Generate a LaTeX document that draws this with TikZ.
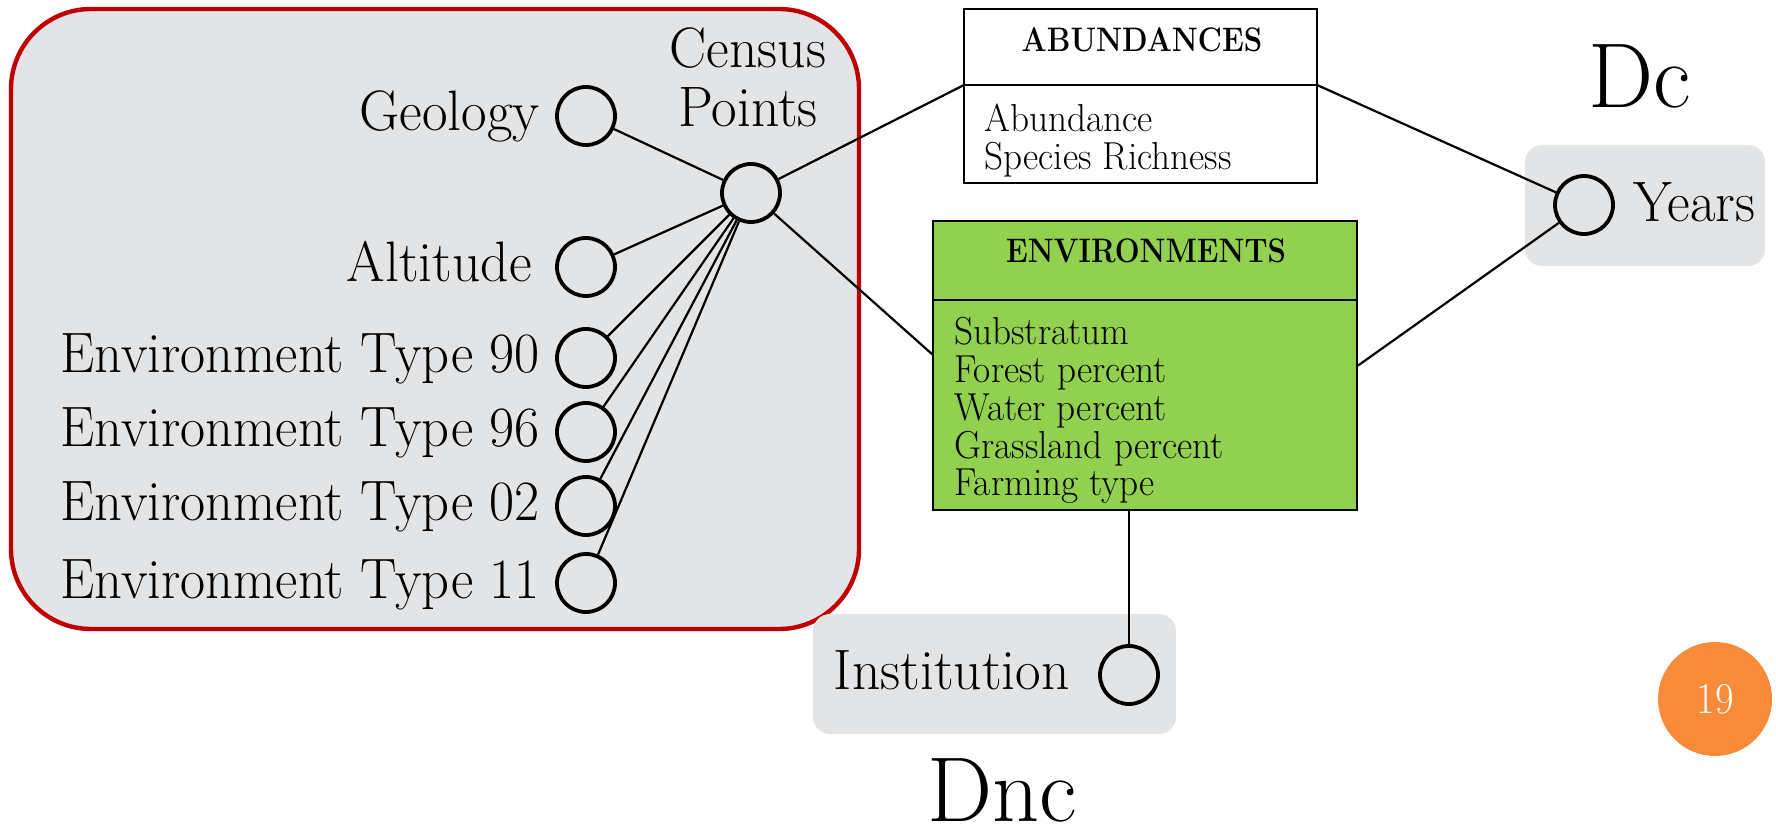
\documentclass[tikz,border=0pt]{standalone}
\usepackage{fontspec}
\definecolor{grayfill}{RGB}{227,228,230}
\definecolor{redline}{RGB}{192,0,0}
\definecolor{envgreen}{RGB}{146,208,80}
\definecolor{pageorange}{RGB}{247,139,58}
% narrow a piece of text horizontally
\newcommand\nx[2]{\scalebox{#1}[1]{#2}}
\begin{document}
\begin{tikzpicture}[x=0.5pt,y=-0.5pt,
  grp/.style={fill=grayfill, draw=none, rounded corners=8.5pt, inner sep=0pt},
  attr/.style={circle, draw, line width=1.9pt, minimum size=29pt, inner sep=0pt},
  lbl/.style={inner sep=0pt, font=\fontsize{28.5}{31}\selectfont},
  item/.style={inner sep=0pt, align=left, anchor=north west, font=\fontsize{19.5}{18.9}\selectfont},
  ttl/.style={inner sep=0pt, font=\fontsize{17}{20}\selectfont\bfseries},
  tbl/.style={draw, line width=1.1pt, inner sep=0pt},
  link/.style={line width=1.1pt},
  big/.style={inner sep=0pt, font=\fontsize{46}{50}\selectfont}]
\useasboundingbox (0,0) rectangle (1776,833);

% grouping backgrounds
\node[draw=redline, line width=2.2pt, fill=grayfill, rounded corners=40pt,
      minimum width=424pt, minimum height=310pt, inner sep=0pt] (cgroup) at (435,319) {};
\node[grp, minimum width=120pt, minimum height=60.5pt] (ygroup) at (1645,205.5) {};
\node[grp, minimum width=181.5pt, minimum height=60pt] (igroup) at (994.5,674) {};

% census point and its attributes
\node[attr] (cp) at (751,193) {};
\node[lbl, anchor=base] (cen1) at (748,68) {\nx{0.975}{Census}};
\node[lbl, anchor=base] (cen2) at (748,127) {\nx{0.975}{Points}};

\node[attr] (geo) at (586,116) {};
\node[attr] (alt) at (586,267) {};
\node[attr] (e90) at (586,358) {};
\node[attr] (e96) at (586,432) {};
\node[attr] (e02) at (586,506) {};
\node[attr] (e11) at (586,583) {};
\foreach \n/\t/\g/\s in {geo/Geology/7.5/0.975, alt/Altitude/11.5/0.975,
                   e90/Environment Type 90/7.5/0.957, e96/Environment Type 96/7.5/0.957,
                   e02/Environment Type 02/7.5/0.957, e11/Environment Type 11/7.5/0.957}
  \node[lbl, anchor=base east] (\n-l) at ([xshift=-\g pt,yshift=-7.5pt]\n.west) {\nx{\s}{\t}};

% fact tables
\node[tbl, fill=white, minimum width=176.5pt, minimum height=87pt] (abund) at (1140.5,96) {};
\coordinate (abl) at (964,85);
\coordinate (abr) at (1317,85);
\draw[line width=1.1pt] (abl) -- (abr);
\node[ttl] (abund-t) at (1142,40) {\nx{0.87}{ABUNDANCES}};
\node[item] (abund-i) at (984,103.5) {\nx{0.955}{Abundance}\\\nx{0.955}{Species Richness}};

\node[tbl, fill=envgreen, minimum width=212pt, minimum height=144.5pt] (env) at (1145,365.5) {};
\coordinate (envtl) at (933,300);
\coordinate (envtr) at (1357,300);
\draw[line width=1.1pt] (envtl) -- (envtr);
\coordinate (envl) at (933,355);
\node[ttl] (env-t) at (1146,251) {\nx{0.865}{ENVIRONMENTS}};
\node[item] (env-i) at (954,317) {\nx{0.955}{Substratum}\\\nx{0.955}{Forest percent}\\
  \nx{0.955}{Water percent}\\\nx{0.955}{Grassland percent}\\\nx{0.955}{Farming type}};

% dimensions
\node[attr] (yrs) at (1584,205) {};
\node[lbl, anchor=base west] (yrs-l) at (1633,222) {\nx{0.975}{Years}};
\node[attr] (inst) at (1129,675) {};
\node[lbl, anchor=base east] (inst-l) at (1070,689) {\nx{0.975}{Institution}};

\node[big, anchor=base] (dc) at (1640,107.6) {Dc};
\node[big, anchor=base] (dnc) at (1002,821) {Dnc};

% page number
\node[circle, fill=pageorange, minimum size=57pt, inner sep=0pt, text=white,
      font=\fontsize{22}{24}\selectfont] (page) at (1715,699) {\nx{0.92}{19}};

% connectors
\foreach \n in {geo,alt,e90,e96,e02,e11}
  \draw[link] (cp) -- (\n);
\draw[link] (cp) -- (abl);
\draw[link] (abr) -- (yrs);
\draw[link] (cp) -- (envl);
\draw[link] (env.east) -- (yrs);
\draw[link] (inst) -- (inst |- env.south);
\end{tikzpicture}
\end{document}
